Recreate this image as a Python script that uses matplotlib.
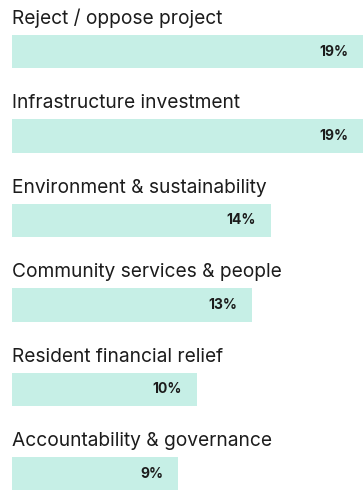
import matplotlib
matplotlib.use("Agg")
import matplotlib.pyplot as plt

categories = [
    "Reject / oppose project",
    "Infrastructure investment",
    "Environment & sustainability",
    "Community services & people",
    "Resident financial relief",
    "Accountability & governance",
]
shares = [19, 19, 14, 13, 10, 9]

BAR_COLOR = "#c6efe6"
TEXT_COLOR = "#1c1c1c"

plt.rcParams["font.family"] = ["Inter", "DejaVu Sans"]

fig = plt.figure(figsize=(3.63, 4.90), dpi=100)
ax = fig.add_axes([0, 0, 1, 1])

rows = list(range(len(categories)))
ax.barh(rows, shares, height=0.40, color=BAR_COLOR, edgecolor="none")

for i, (name, val) in enumerate(zip(categories, shares)):
    # category title sits just above its bar
    ax.text(0.0, i - 0.33, name, ha="left", va="baseline",
            fontsize=13.8, color=TEXT_COLOR)
    ax.annotate(f"{val}%", xy=(val, i), xytext=(-15, 0),
                textcoords="offset pixels", ha="right", va="center",
                fontsize=10, fontweight="bold", color=TEXT_COLOR)

ax.set_xlim(-0.65, 19.0)
ax.set_ylim(5.19, -0.61)
ax.axis("off")

fig.savefig("out.png", dpi=100)
